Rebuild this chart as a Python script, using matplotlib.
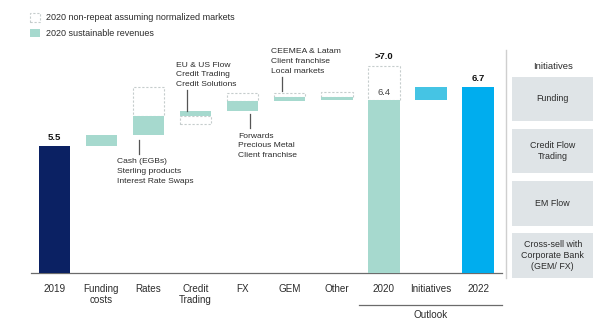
import matplotlib
matplotlib.use("Agg")
import matplotlib.pyplot as plt
from matplotlib.patches import Rectangle

plt.rcParams["font.family"] = ["Liberation Sans", "DejaVu Sans"]

# data (EUR bn)
categories = ["2019", "Funding\ncosts", "Rates", "Credit\nTrading", "FX", "GEM", "Other",
              "2020", "Initiatives", "2022"]
start_2019 = 5.5
sustainable_deltas = [0.22, 0.37, 0.10, 0.19, 0.07, -0.05]   # Funding .. Other
nonrepeat_deltas = [0.0, 0.56, -0.17, 0.15, 0.09, 0.10]       # dashed boxes
total_2020_incl_nonrepeat = 7.07
initiatives_delta = 0.26
value_labels = {"2019": "5.5", "2020_top": ">7.0", "2020": "6.4", "2022": "6.7"}
annotations = [
    ("Rates", ["Cash (EGBs)", "Sterling products", "Interest Rate Swaps"]),
    ("Credit\nTrading", ["EU & US Flow", "Credit Trading", "Credit Solutions"]),
    ("FX", ["Forwards", "Precious Metal", "Client franchise"]),
    ("GEM", ["CEEMEA & Latam", "Client franchise", "Local markets"]),
]
initiatives = ["Funding", "Credit Flow\nTrading", "EM Flow",
               "Cross-sell with\nCorporate Bank\n(GEM/ FX)"]

NAVY = "#0b2163"
TEAL = "#a6d9ce"
CYAN_LIGHT = "#45c4e4"
CYAN = "#00adee"
DASH = "#c5cccc"
TEXT = "#2b2b2b"
BOX = "#dfe4e7"

W, H = 600, 328
fig = plt.figure(figsize=(6, 3.28), dpi=100)
ax = fig.add_axes([30.7 / W, (H - 272.7) / H, 471 / W, 232.7 / H])
ymin = 3.0
ymax = ymin + 232.7 / 50.8
ax.set_xlim(-0.5, 9.5)
ax.set_ylim(ymin, ymax)
for s in ["top", "right", "left"]:
    ax.spines[s].set_visible(False)
ax.spines["bottom"].set_color("#6b6b6b")
ax.spines["bottom"].set_linewidth(0.9)
ax.set_yticks([])
ax.set_xticks(range(len(categories)))
ax.set_xticklabels(categories, fontsize=7.1, color=TEXT, linespacing=1.15, va="top")
ax.tick_params(axis="x", length=0, pad=8)

bw = 0.667


def dashed_box(x, y0, y1):
    ax.add_patch(Rectangle((x - bw / 2, min(y0, y1)), bw, abs(y1 - y0), fill=False,
                           edgecolor=DASH, linewidth=0.8, linestyle=(0, (2, 1.6)), zorder=2))


# 2019
ax.bar(0, start_2019 - ymin, bottom=ymin, width=bw, color=NAVY, zorder=3)
ax.text(0, start_2019 + 0.07, value_labels["2019"], ha="center", va="bottom",
        fontsize=6.8, fontweight="bold", color="#111111")

# waterfall steps
level = start_2019
bar_span = {}
for i, (d, nr) in enumerate(zip(sustainable_deltas, nonrepeat_deltas), start=1):
    lo, hi = min(level, level + d), max(level, level + d)
    ax.bar(i, hi - lo, bottom=lo, width=bw, color=TEAL, zorder=3)
    if nr > 0:
        dashed_box(i, hi, hi + nr)
    elif nr < 0:
        dashed_box(i, lo, lo + nr)
    bar_span[categories[i]] = (lo, hi, nr)
    level += d

sustainable_2020 = level
# 2020
ax.bar(7, sustainable_2020 - ymin, bottom=ymin, width=bw, color=TEAL, zorder=3)
dashed_box(7, sustainable_2020, total_2020_incl_nonrepeat)
ax.text(7, sustainable_2020 + 0.06, value_labels["2020"], ha="center", va="bottom",
        fontsize=6.8, color="#444444")
ax.text(7, total_2020_incl_nonrepeat + 0.09, value_labels["2020_top"], ha="center",
        va="bottom", fontsize=6.8, fontweight="bold", color="#111111")

# initiatives + 2022
ax.bar(8, initiatives_delta, bottom=sustainable_2020, width=bw, color=CYAN_LIGHT, zorder=3)
v2022 = sustainable_2020 + initiatives_delta
ax.bar(9, v2022 - ymin, bottom=ymin, width=bw, color=CYAN, zorder=3)
ax.text(9, v2022 + 0.07, value_labels["2022"], ha="center", va="bottom",
        fontsize=6.8, fontweight="bold", color="#111111")

# annotations: (leader offset, text offset, above/below)
ann_style = {
    "Rates": (-0.21, -0.67, "below"),
    "Credit\nTrading": (-0.19, -0.42, "above"),
    "FX": (0.15, -0.09, "below"),
    "GEM": (-0.16, -0.40, "above"),
}
for cat, lines in annotations:
    i = categories.index(cat)
    lo, hi, nr = bar_span[cat]
    lead_dx, text_dx, pos = ann_style[cat]
    lx = i + lead_dx
    if pos == "below":
        y_top = lo - (0.10 if cat == "Rates" else 0.065)
        y_bot = y_top - 0.28
        ax.plot([lx, lx], [y_top, y_bot], color="#555555", lw=0.9, zorder=4)
        ax.text(i + text_dx, y_bot - 0.09, "\n".join(lines), ha="left", va="top",
                fontsize=6.1, color=TEXT, linespacing=1.52)
    else:
        y_bot = (hi + max(nr, 0)) + (0.0 if nr <= 0 else 0.035)
        y_top = y_bot + (0.40 if cat == "Credit\nTrading" else 0.28)
        ax.plot([lx, lx], [y_bot, y_top], color="#555555", lw=0.9, zorder=4)
        ax.text(i + text_dx, y_top + 0.045, "\n".join(lines), ha="left", va="bottom",
                fontsize=6.1, color=TEXT, linespacing=1.52)

# outlook bracket
fig.add_artist(plt.Line2D([359.3 / W, 501.7 / W], [1 - 305.3 / H] * 2,
                          color="#6b6b6b", lw=0.9))
fig.text(430.5 / W, 1 - 315 / H, "Outlook", ha="center", va="center",
         fontsize=7.1, color=TEXT)

# legend
fig.add_artist(Rectangle((30 / W, 1 - 21.7 / H), 10 / W, 8.4 / H, fill=False,
                         edgecolor=DASH, linewidth=0.8, linestyle=(0, (2, 1.6))))
fig.add_artist(Rectangle((30 / W, 1 - 37.3 / H), 10 / W, 8 / H, facecolor=TEAL,
                         edgecolor="none"))
fig.text(45.7 / W, 1 - 17.6 / H, "2020 non-repeat assuming normalized markets",
         ha="left", va="center", fontsize=6.5, color=TEXT)
fig.text(45.7 / W, 1 - 33.3 / H, "2020 sustainable revenues",
         ha="left", va="center", fontsize=6.5, color=TEXT)

# right panel
fig.add_artist(plt.Line2D([506 / W, 506 / W], [1 - 50 / H, 1 - 278 / H],
                          color="#cfcfcf", lw=1.0))
fig.text(553 / W, 1 - 66.7 / H, "Initiatives", ha="center", va="center",
         fontsize=6.8, color=TEXT)
box_tops = [76.7, 128.7, 181, 233.3]
for t, label in zip(box_tops, initiatives):
    fig.add_artist(Rectangle((512.3 / W, 1 - (t + 44.7) / H), 81 / W, 44.7 / H,
                             facecolor=BOX, edgecolor="none"))
    fig.text(552.8 / W, 1 - (t + 22.3) / H, label, ha="center", va="center",
             fontsize=6.4, color=TEXT, linespacing=1.25)

fig.savefig("out.png", dpi=100)
